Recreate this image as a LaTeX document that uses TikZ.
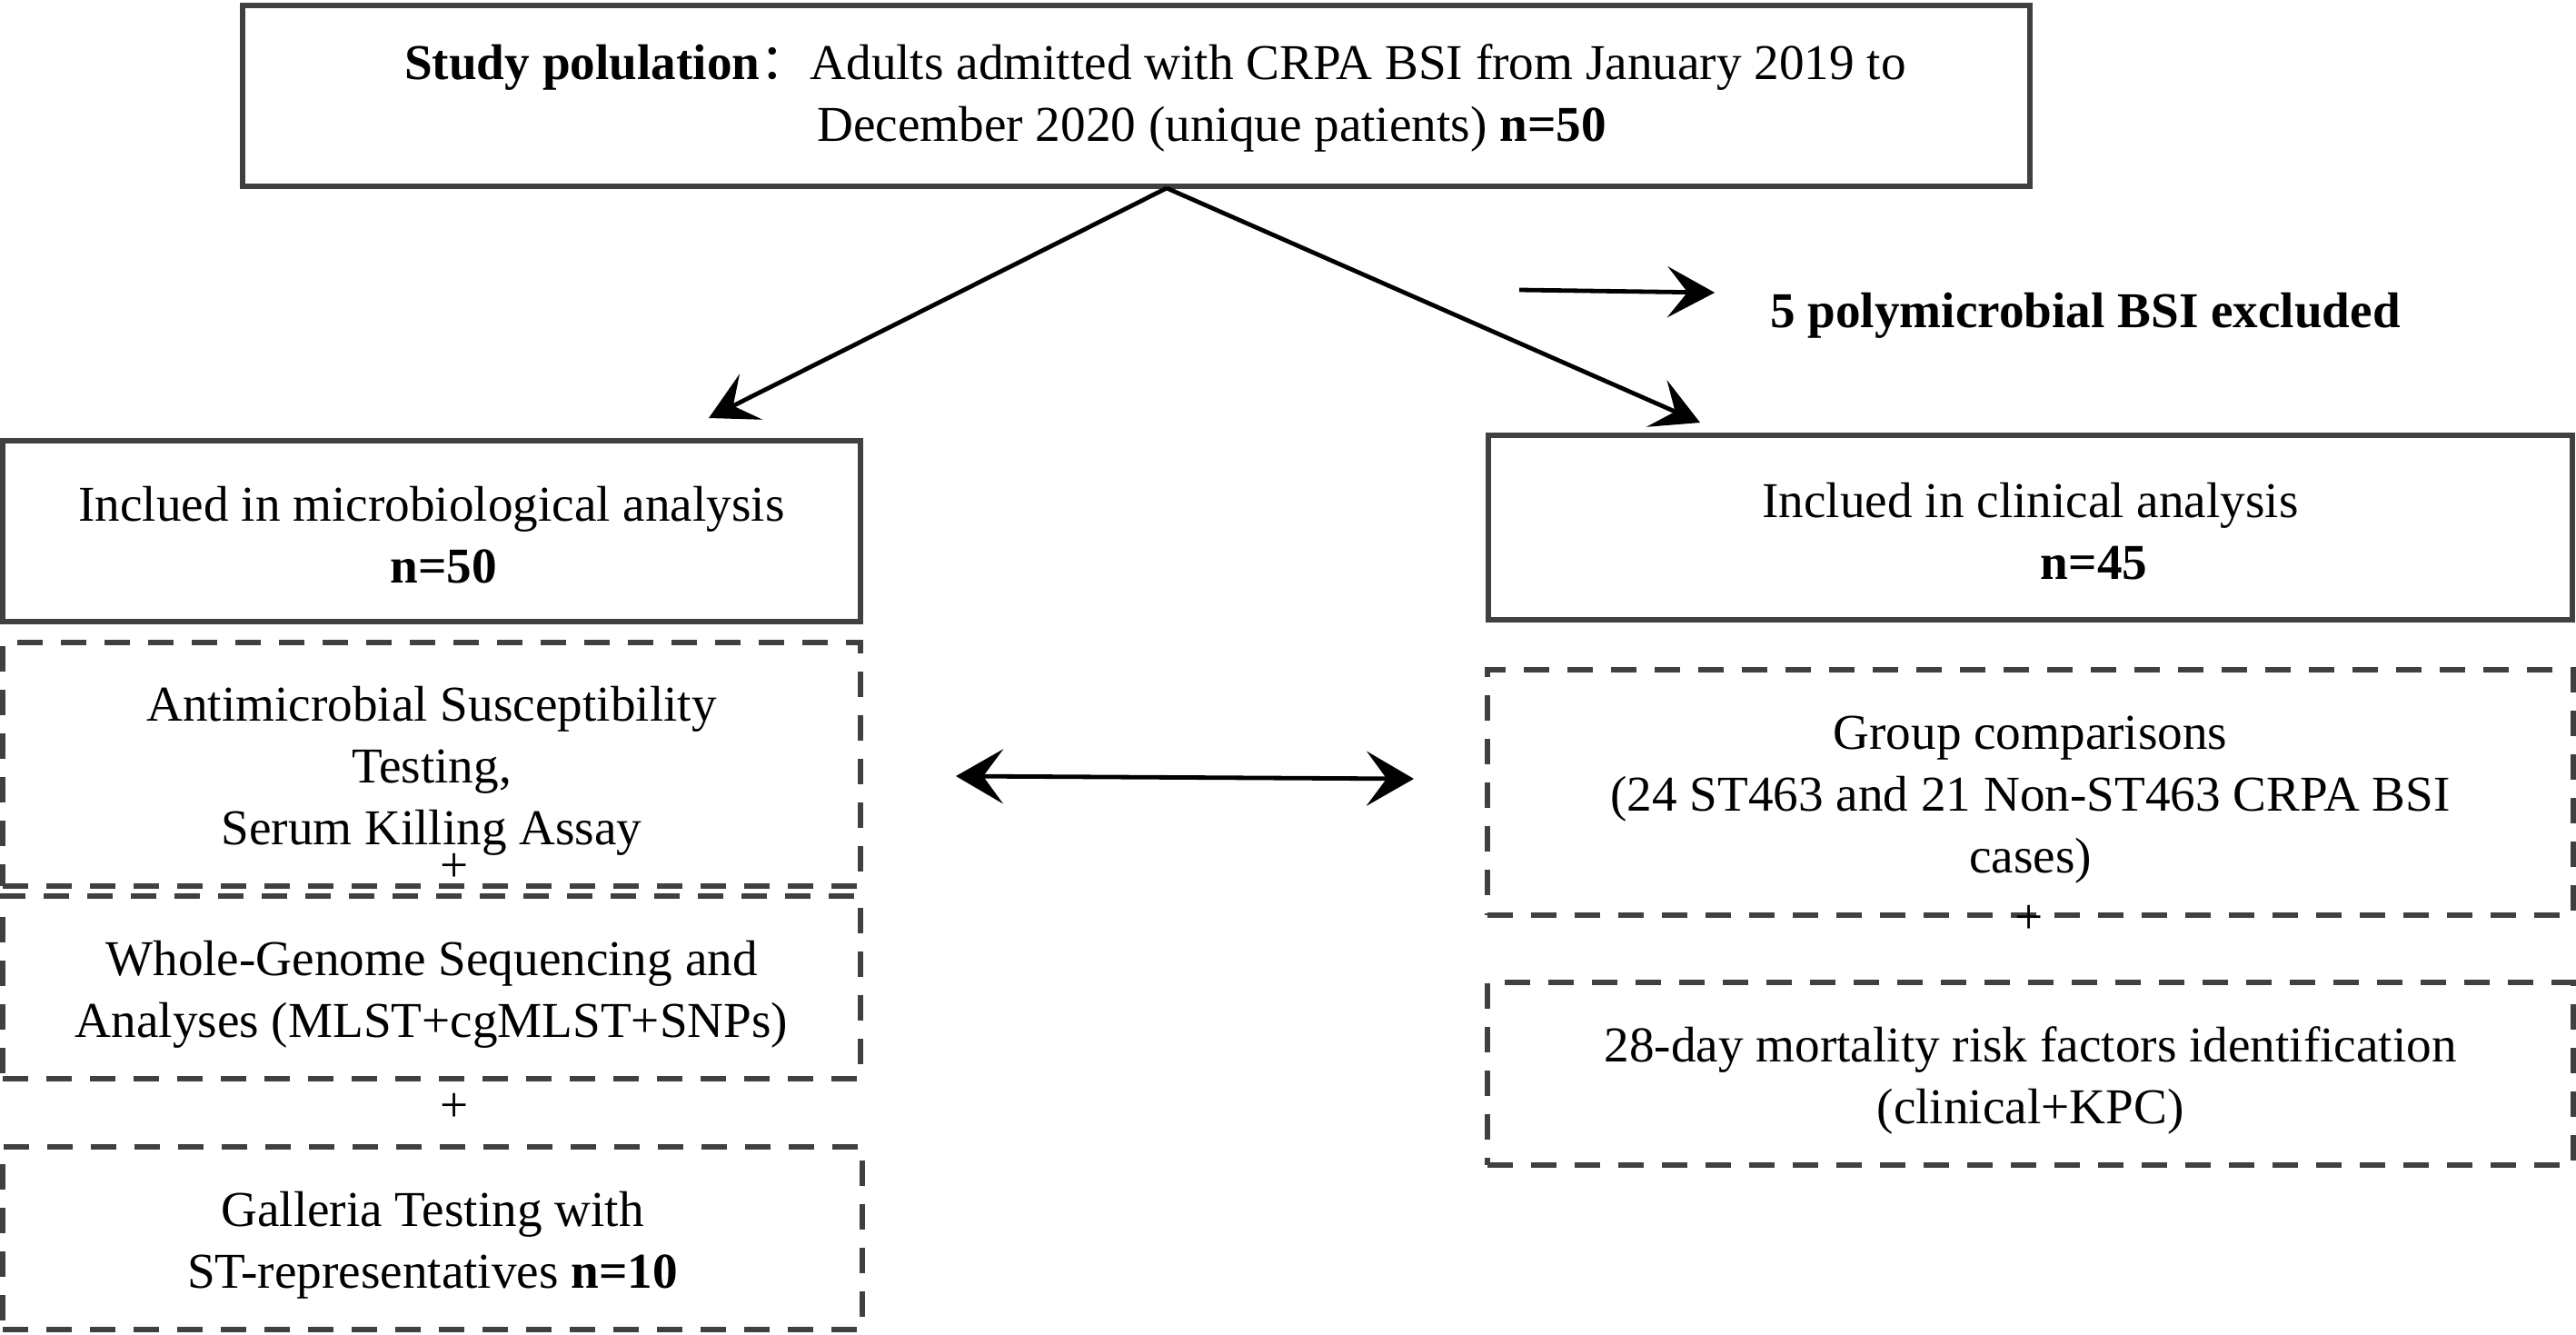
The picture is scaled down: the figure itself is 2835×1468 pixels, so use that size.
\documentclass[tikz,border=0pt]{standalone}
\usepackage{fontspec}
\setmainfont{Liberation Serif}
\newfontfamily\cjkfont{Noto Sans CJK SC}
\usetikzlibrary{arrows.meta,calc}
\definecolor{boxgray}{HTML}{404040}
\newcommand\txtup[1]{\rule{0pt}{#1}}
\begin{document}
\begin{tikzpicture}[x=0.25pt,y=-0.25pt,
  every node/.style={font=\fontsize{13.8pt}{17pt}\selectfont, inner sep=0pt, outer sep=0pt, text=black},
  solidbox/.style={draw=boxgray, line width=1.5pt, align=center},
  dashbox/.style={draw=boxgray, line width=1.6pt, dash pattern=on 7pt off 5pt, align=center},
  arr/.style={draw=black, line width=1.2pt, -{Stealth[length=13pt,width=14pt,inset=5.5pt]}},
  dblarr/.style={draw=black, line width=1.2pt, {Stealth[length=13pt,width=15pt,inset=5.5pt]}-{Stealth[length=13pt,width=15pt,inset=5.5pt]}},
]
\useasboundingbox (0,0) rectangle (2835,1468);

% top box
\node[solidbox, minimum width=491.75pt, minimum height=49.75pt] (pop) at (1250.5,105.5)
  {\txtup{11pt}\hspace*{10.5pt}\textbf{Study polulation}{\cjkfont ：}Adults admitted with CRPA BSI from January 2019 to\\
   \hspace*{41.5pt}December 2020 (unique patients) \textbf{n=50}};

% solid boxes
\node[solidbox, minimum width=236pt, minimum height=49.75pt] (micro) at (475,584.5)
  {\txtup{11.4pt}Inclued in microbiological analysis\\ \hspace*{6.5pt}\textbf{n=50}};
\node[solidbox, minimum width=298.25pt, minimum height=50.75pt] (clin) at (2234.5,580.5)
  {\txtup{11.8pt}Inclued in clinical analysis\\ \hspace*{35pt}\textbf{n=45}};

% dashed boxes, left
\node[dashbox, minimum width=236pt, minimum height=67pt] (ast) at (475,841)
  {\txtup{13.4pt}Antimicrobial Susceptibility\\Testing,\\Serum Killing Assay};
\node[dashbox, minimum width=236pt, minimum height=50.25pt] (wgs) at (475,1086.5)
  {\txtup{13.4pt}Whole-Genome Sequencing and\\Analyses (MLST+cgMLST+SNPs)};
\node[dashbox, minimum width=236.5pt, minimum height=50.25pt] (gal) at (476,1362.5)
  {\txtup{13.6pt}Galleria Testing with\\ST-representatives \textbf{n=10}};

% dashed boxes, right
\node[dashbox, minimum width=298.75pt, minimum height=67.5pt] (grp) at (2234.5,872)
  {\txtup{13pt}Group comparisons\\(24 ST463 and 21 Non-ST463 CRPA BSI\\cases)};
\node[dashbox, minimum width=298.75pt, minimum height=50.25pt] (risk) at (2234.5,1181.5)
  {\txtup{13.4pt}28-day mortality risk factors identification\\(clinical+KPC)};

% plus signs
\node (p1) at (500,955) {+};
\node (p2) at (500,1219) {+};
\node (p3) at (2233,1012) {+};

% excluded label
\node (excl) at (2295,347) {\textbf{5 polymicrobial BSI excluded}};

% connectors
\coordinate (split) at ($(pop.south)+(33.5,2)$);
\coordinate (lt) at ($(micro.north)+(305,-25)$);
\coordinate (rt) at ($(clin.north)+(-363.5,-14)$);
\coordinate (ea) at (1672,319);
\coordinate (eb) at ($(excl.west)+(-61,-25)$);
\coordinate (da) at ($(ast.east)+(105,13)$);
\coordinate (db) at ($(grp.west)+(-81,-15)$);

\draw[arr] (split) -- (lt);
\draw[arr] (split) -- (rt);
\draw[arr] (ea) -- (eb);
\draw[dblarr] (da) -- (db);
\end{tikzpicture}
\end{document}
